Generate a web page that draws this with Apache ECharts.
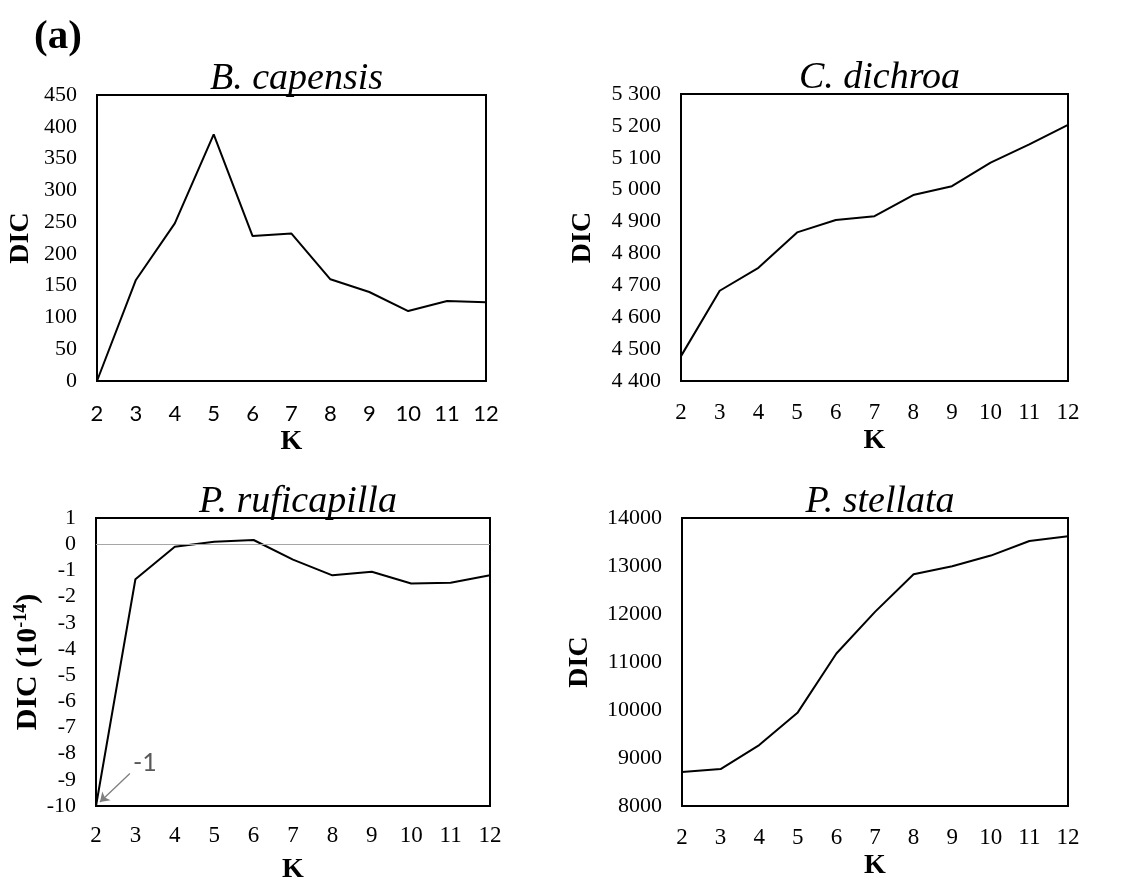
<!DOCTYPE html>
<html><head><meta charset="utf-8">
<script src="https://cdn.jsdelivr.net/npm/echarts@6/dist/echarts.min.js"></script>
<style>html,body{margin:0;padding:0;background:#fff}#c{width:1122px;height:885px}</style>
</head><body><div id="c"></div>
<script>
const K = [2,3,4,5,6,7,8,9,10,11,12];
const capensis = [0,159,248,388,228,232,160,140,110,126,124];
const dichroa = [4478,4683,4755,4866,4905,4917,4983,5011,5085,5142,5203];
const ruficapilla = [-10,-1.34,-0.1,0.09,0.16,-0.59,-1.19,-1.05,-1.5,-1.47,-1.19];
const stellata = [8708,8770,9270,9950,11178,12044,12828,12995,13217,13522,13619];
const titles = ['B. capensis','C. dichroa','P. ruficapilla','P. stellata'];
const yNames = ['DIC','DIC','DIC (10{sup|-14})','DIC'];
const yRanges = [[0,450,50],[4400,5300,100],[-10,1,1],[8000,14000,1000]];

const serif = 'Liberation Serif';
const grids = [
  {left:97, top:95, width:389, height:286},
  {left:681, top:94, width:387, height:287},
  {left:96, top:518, width:394, height:292},
  {left:682, top:518, width:386, height:288}
];
const xLabelFont = [
  {fontFamily:'Lato', fontSize:22, margin:22},
  {fontFamily:serif, fontSize:23, margin:20},
  {fontFamily:serif, fontSize:23, margin:18},
  {fontFamily:serif, fontSize:23, margin:20}
];
const kGap = [47, 46, 50, 46];
const dicGap = [62, 84, 46, 88];
const dicSize = [28, 28, 30, 28];
const spaceFmt = v => String(v).replace(/\B(?=(\d{3})+(?!\d))/g, ' ');
const yFmt = [v=>String(v), spaceFmt, v=>String(v), v=>String(v)];
const datasets = [capensis, dichroa, ruficapilla, stellata];

const option = {
  animation:false,
  backgroundColor:'#fff',
  title: grids.map((g,i)=>({
    text: titles[i],
    left: g.left + g.width/2,
    top: g.top - 40,
    textAlign:'center',
    textStyle:{fontFamily:serif, fontStyle:'italic', fontWeight:'normal', fontSize:38, color:'#000'}
  })),
  grid: grids.map(g=>Object.assign({show:true, borderColor:'#000', borderWidth:2, backgroundColor:'transparent', containLabel:false}, g)),
  xAxis: grids.map((g,i)=>({
    type:'value', gridIndex:i, min:2, max:12, interval:1,
    name:'K', nameLocation:'middle', nameGap:kGap[i],
    nameTextStyle:{fontFamily:serif, fontWeight:'bold', fontSize:28, color:'#000'},
    axisLine:{show:false}, axisTick:{show:false}, splitLine:{show:false},
    axisLabel:Object.assign({color:'#000'}, xLabelFont[i])
  })),
  yAxis: grids.map((g,i)=>({
    type:'value', gridIndex:i, min:yRanges[i][0], max:yRanges[i][1], interval:yRanges[i][2],
    name:yNames[i], nameLocation:'middle', nameGap:dicGap[i], nameRotate:90,
    nameTextStyle:{fontFamily:serif, fontWeight:'bold', fontSize:dicSize[i], color:'#000',
      rich:{sup:{fontFamily:serif, fontWeight:'bold', fontSize:18, verticalAlign:'top', padding:[0,0,12,0], color:'#000'}}},
    axisLine:{show:false}, axisTick:{show:false}, splitLine:{show:false},
    axisLabel:{fontFamily:serif, fontSize:22, color:'#000', margin:20, formatter:yFmt[i]}
  })),
  series: datasets.map((d,i)=>{
    const s = {
      type:'line', xAxisIndex:i, yAxisIndex:i, symbol:'none',
      data: K.map((k,j)=>[k, d[j]]),
      lineStyle:{color:'#000', width:2}, z:3
    };
    if (i===2) {
      s.markLine = {
        silent:true, animation:false,
        data:[
          [{coord:[2,0], symbol:'none', lineStyle:{color:'#a6a6a6', width:1, type:'solid'}, label:{show:false}},
           {coord:[12,0], symbol:'none'}],
          [{coord:[2.86,-8.76], symbol:'none', lineStyle:{color:'#7f7f7f', width:1.3, type:'solid'}, label:{show:false}},
           {coord:[2.1,-9.85], symbol:'arrow', symbolSize:9}]
        ]
      };
      s.markPoint = {
        silent:true, symbol:'circle', symbolSize:0,
        data:[{coord:[3.24,-8.35], label:{show:true, formatter:'-1', fontFamily:'Lato', fontSize:25, color:'#595959', position:'inside'}}]
      };
    }
    return s;
  }),
  graphic:[{type:'text', left:34, top:17, style:{text:'(a)', font:'bold 41px "Liberation Serif"', fill:'#000'}}]
};
const chart = echarts.init(document.getElementById('c'));
chart.setOption(option);
</script></body></html>
